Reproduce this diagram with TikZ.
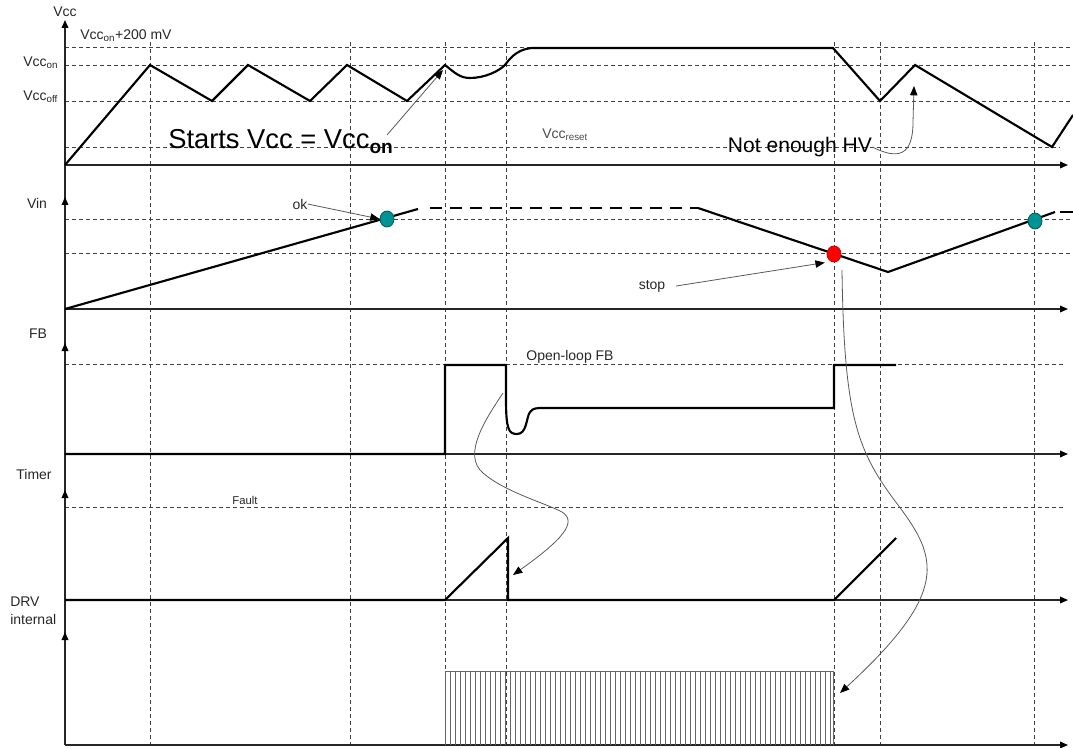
\documentclass[tikz,border=0pt]{standalone}
\usepackage{fontspec}
\setmainfont{Liberation Sans}
\usetikzlibrary{arrows.meta,shapes.geometric}
\begin{document}
\begin{tikzpicture}[x=0.75pt,y=-0.75pt,
  axis/.style={line width=0.95pt,draw=black!85},
  axtip/.style={axis,-{Triangle[length=6pt,width=5pt,color=black]}},
  grid/.style={line width=0.7pt,draw=black!75,dash pattern=on 3pt off 2.25pt},
  wave/.style={line width=1.6pt,draw=black,line join=miter},
  wavedash/.style={wave,dash pattern=on 9pt off 6pt},
  note/.style={line width=0.6pt,draw=black!65,-{Triangle[length=7pt,width=5.5pt,color=black]}},
  lab/.style={font=\fontsize{10.5}{12}\selectfont,text=black!85,inner sep=0pt},
  smalllab/.style={font=\fontsize{8.5}{10}\selectfont,text=black!85,inner sep=0pt},
  biglab/.style={font=\fontsize{15.8}{18}\selectfont,text=black,inner sep=0pt},
  hugelab/.style={font=\fontsize{20.5}{24}\selectfont,text=black,inner sep=0pt},
  tealdot/.style={ellipse,draw=teal!70!black,fill=teal!85!cyan,line width=0.6pt,minimum width=10.5pt,minimum height=12pt,inner sep=0pt},
  reddot/.style={ellipse,draw=red!80!black,fill=red,line width=0.6pt,minimum width=10.5pt,minimum height=12pt,inner sep=0pt},
  hatch/.style={line width=0.5pt,draw=black!60}
]
\useasboundingbox (0,0) rectangle (1073,748);

% ---------- grid (dashed) ----------
\foreach \yy in {47,65,101} {\draw[grid] (65,\yy) -- (1073,\yy);}
\draw[grid] (65,147) -- (1060,147);
\foreach \yy in {219,253} {\draw[grid] (65,\yy) -- (1073,\yy);}
\draw[grid] (65,364) -- (1065,364);
\draw[grid] (65,507) -- (1065,507);
\foreach \xx in {150,350,445,506,834,880,1034} {\draw[grid] (\xx,42) -- (\xx,745);}

% ---------- axes ----------
\draw[axtip] (65,745) -- (65,20);
\draw[axtip] (65,230) -- (65,197);
\draw[axtip] (65,380) -- (65,343);
\draw[axtip] (65,520) -- (65,490);
\draw[axtip] (65,660) -- (65,632);
\foreach \yy in {165,309,454,600,745} {\draw[axtip] (65,\yy) -- (1068,\yy);}

% ---------- axis labels ----------
\node[lab] (lvcc) at (65,12) {Vcc};
\node[lab,anchor=west] (lvccp) at (80,36) {Vcc\textsubscript{on}+200 mV};
\node[lab,anchor=west] (lvccon) at (23,63) {Vcc\textsubscript{on}};
\node[lab,anchor=west] (lvccoff) at (23,97) {Vcc\textsubscript{off}};
\node[lab,anchor=west,text=black!70] (lvccreset) at (542,135) {Vcc\textsubscript{reset}};
\node[lab] (lvin) at (37,203) {Vin};
\node[lab] (lfb) at (38,334) {FB};
\node[lab] (ltimer) at (34,474) {Timer};
\node[lab,anchor=north west,align=left,font=\fontsize{10.5}{13.5}\selectfont] (ldrv) at (10,597) {DRV\\internal};
\node[smalllab] (lfault) at (245,500) {Fault};
\node[lab] (lopen) at (570,357) {Open-loop FB};

% ---------- Vcc waveform ----------
\draw[wave] (65,165) -- (150,65) -- (212,101) -- (248,65) -- (310,101) -- (347,65) -- (407,101) -- (445,65)
  .. controls (455,73) and (460,78) .. (470,78)
  .. controls (485,78) and (499,71) .. (505,65)
  .. controls (512,55) and (520,49) .. (532,48)
  -- (833,48) -- (880,101) -- (915,65) -- (1052,147) -- (1073,115);

% ---------- Vin waveform ----------
\draw[wave] (65,309) -- (418,209);
\draw[wavedash] (430,208) -- (698,208);
\draw[wave] (698,208) -- (888,272) -- (1055,212);
\draw[wave] (1060,212) -- (1073,212);
\node[tealdot] (ok1) at (387,219) {};
\node[tealdot] (ok2) at (1035,221) {};
\node[reddot] (stopdot) at (834,254) {};

% ---------- FB waveform ----------
\draw[wave] (65,454) -- (445,454) -- (445,365) -- (506,365) -- (506,400)
  .. controls (506,430) and (509,434) .. (517,434)
  .. controls (527,434) and (526,418) .. (530,412)
  .. controls (533,408) and (536,408) .. (545,408)
  -- (834,408) -- (834,365) -- (896,365);

% ---------- Timer waveform ----------
\draw[wave] (65,600) -- (445,600) -- (508,538) -- (508,600) -- (834,600) -- (896,538);

% ---------- DRV internal ----------
\foreach \i in {0,...,77} {\draw[hatch] ({445+5*\i},671) -- ({445+5*\i},745);}
\draw[hatch] (833,671) -- (833,745);
\draw[hatch,line width=0.7pt] (445,671) -- (833,671);

% ---------- annotations ----------
\node[hugelab,anchor=base west] (starts) at (168,149) {Starts Vcc = Vcc\textsubscript{\textbf{on}}};
\coordinate (startsfrom) at (387,135);
\coordinate (startsto) at (443,70);
\draw[note] (startsfrom) -- (startsto);

\node[biglab] (hv) at (800,147) {Not enough HV};
\coordinate (hvto) at (914,86);
\draw[note] (hv.east) .. controls (898,160) and (913,156) .. (913,122) -- (hvto);

\node[lab] (lok) at (300,204) {ok};
\draw[note] (lok.east) -- (ok1.west);

\node[lab] (lstop) at (652,286) {stop};
\draw[note] ([xshift=8pt]lstop.east) -- ([xshift=-3pt,yshift=-2pt]stopdot.south west);

\coordinate (fbfrom) at (503,393);
\coordinate (timerto) at (513,575);
\draw[note] (fbfrom) .. controls (485,420) and (462,455) .. (483,473)
  .. controls (505,492) and (545,503) .. (562,512)
  .. controls (578,522) and (562,540) .. (timerto);

\coordinate (stopfrom) at (842,270);
\coordinate (drvto) at (840,693);
\draw[note] (stopfrom) .. controls (844,420) and (858,452) .. (898,505)
  .. controls (938,558) and (950,592) .. (drvto);
\end{tikzpicture}
\end{document}
